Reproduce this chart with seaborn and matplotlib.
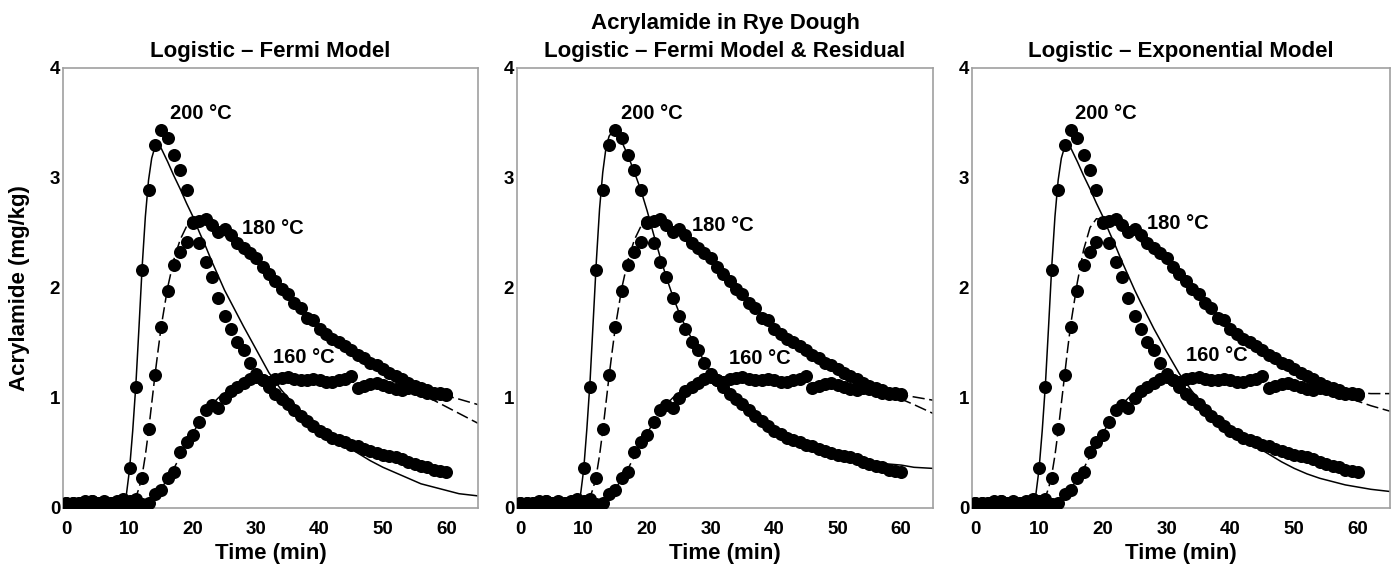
import matplotlib
matplotlib.use('Agg')
import numpy as np
import pandas as pd
import matplotlib.pyplot as plt
import seaborn as sns

# measured acrylamide (mg/kg), one reading per minute
time_min = [0, 1, 2, 3, 4, 5, 6, 7, 8, 9, 10, 11, 12, 13, 14, 15, 16, 17, 18, 19, 20,
            21, 22, 23, 24, 25, 26, 27, 28, 29, 30, 31, 32, 33, 34, 35, 36, 37, 38, 39, 40,
            41, 42, 43, 44, 45, 46, 47, 48, 49, 50, 51, 52, 53, 54, 55, 56, 57, 58, 59, 60]

acr_200 = [0.04, 0.05, 0.05, 0.06, 0.05, 0.05, 0.06, 0.05, 0.05, 0.08, 0.36,
           1.10, 2.16, 2.89, 3.30, 3.44, 3.36, 3.21, 3.07, 2.89, 2.60,
           2.41, 2.24, 2.10, 1.91, 1.75, 1.63, 1.51, 1.44, 1.32, 1.22,
           1.16, 1.10, 1.04, 0.99, 0.95, 0.89, 0.84, 0.79, 0.75, 0.70,
           0.67, 0.64, 0.62, 0.60, 0.57, 0.56, 0.54, 0.52, 0.50, 0.48,
           0.47, 0.46, 0.45, 0.42, 0.40, 0.38, 0.37, 0.35, 0.34, 0.33]

acr_180 = [0.05, 0.04, 0.05, 0.05, 0.06, 0.05, 0.04, 0.05, 0.06, 0.05, 0.04,
           0.08, 0.27, 0.72, 1.21, 1.65, 1.97, 2.21, 2.33, 2.42, 2.59,
           2.61, 2.63, 2.57, 2.51, 2.54, 2.48, 2.41, 2.36, 2.32, 2.27,
           2.19, 2.13, 2.06, 1.99, 1.95, 1.86, 1.82, 1.73, 1.71, 1.63,
           1.58, 1.54, 1.51, 1.47, 1.44, 1.39, 1.36, 1.32, 1.30, 1.26,
           1.23, 1.20, 1.17, 1.14, 1.11, 1.09, 1.07, 1.05, 1.04, 1.03]

acr_160 = [0.05, 0.05, 0.04, 0.05, 0.06, 0.05, 0.05, 0.04, 0.05, 0.05, 0.06,
           0.05, 0.04, 0.05, 0.13, 0.16, 0.27, 0.33, 0.51, 0.60, 0.66,
           0.78, 0.89, 0.94, 0.91, 1.00, 1.06, 1.10, 1.14, 1.17, 1.19,
           1.16, 1.15, 1.17, 1.18, 1.19, 1.17, 1.16, 1.16, 1.17, 1.16,
           1.15, 1.15, 1.16, 1.17, 1.20, 1.09, 1.11, 1.13, 1.14, 1.12,
           1.10, 1.08, 1.07, 1.09, 1.08, 1.06, 1.05, 1.04, 1.05, 1.04]

# fitted model curves
fit_time = [0, 8, 9, 9.5, 10, 10.5, 11, 11.5, 12, 12.5, 13, 13.5, 14, 14.5, 15,
            16, 17, 18, 19, 20, 21, 22, 23, 24, 25, 26, 28, 30, 32, 34,
            36, 38, 40, 42, 44, 46, 48, 50, 52, 54, 56, 58, 60, 62, 65]

# Logistic - Fermi
fermi_200 = [0.05, 0.05, 0.06, 0.12, 0.35, 0.70, 1.12, 1.65, 2.20, 2.65, 2.98, 3.18, 3.28, 3.31, 3.27,
             3.15, 3.02, 2.90, 2.77, 2.65, 2.51, 2.38, 2.24, 2.11, 1.98, 1.87, 1.65, 1.44, 1.23, 1.07,
             0.94, 0.82, 0.72, 0.64, 0.57, 0.50, 0.43, 0.37, 0.32, 0.27, 0.22, 0.19, 0.16, 0.13, 0.11]
fermi_180 = [0.05, 0.05, 0.05, 0.05, 0.05, 0.06, 0.10, 0.18, 0.30, 0.48, 0.70, 0.95, 1.20, 1.43, 1.65,
             2.00, 2.26, 2.44, 2.56, 2.62, 2.63, 2.61, 2.57, 2.53, 2.48, 2.43, 2.33, 2.23, 2.11, 1.99,
             1.87, 1.76, 1.65, 1.55, 1.46, 1.38, 1.30, 1.23, 1.16, 1.10, 1.04, 0.98, 0.92, 0.86, 0.77]
fermi_160 = [0.05, 0.05, 0.05, 0.05, 0.05, 0.05, 0.05, 0.05, 0.05, 0.06, 0.07, 0.09, 0.12, 0.15, 0.18,
             0.26, 0.36, 0.47, 0.58, 0.68, 0.78, 0.87, 0.94, 1.00, 1.05, 1.09, 1.14, 1.16, 1.17, 1.17,
             1.17, 1.17, 1.16, 1.16, 1.15, 1.14, 1.13, 1.11, 1.10, 1.08, 1.06, 1.04, 1.02, 0.99, 0.94]

# Logistic - Fermi & residual
resid_200 = [0.05, 0.05, 0.06, 0.12, 0.35, 0.72, 1.15, 1.70, 2.25, 2.72, 3.05, 3.27, 3.38, 3.42, 3.41,
             3.33, 3.20, 3.05, 2.89, 2.70, 2.49, 2.29, 2.10, 1.93, 1.78, 1.65, 1.43, 1.24, 1.09, 0.98,
             0.89, 0.80, 0.72, 0.65, 0.60, 0.56, 0.52, 0.49, 0.46, 0.44, 0.42, 0.40, 0.39, 0.37, 0.36]
resid_180 = [0.05, 0.05, 0.05, 0.05, 0.05, 0.06, 0.10, 0.18, 0.30, 0.48, 0.70, 0.95, 1.20, 1.43, 1.65,
             2.00, 2.26, 2.44, 2.56, 2.62, 2.63, 2.61, 2.57, 2.53, 2.48, 2.43, 2.33, 2.23, 2.11, 1.99,
             1.87, 1.76, 1.65, 1.56, 1.47, 1.39, 1.32, 1.25, 1.19, 1.13, 1.08, 1.03, 0.99, 0.94, 0.86]
resid_160 = [0.05, 0.05, 0.05, 0.05, 0.05, 0.05, 0.05, 0.05, 0.05, 0.06, 0.07, 0.09, 0.12, 0.15, 0.18,
             0.26, 0.36, 0.47, 0.58, 0.68, 0.78, 0.87, 0.94, 1.00, 1.05, 1.09, 1.14, 1.16, 1.17, 1.17,
             1.17, 1.17, 1.16, 1.16, 1.15, 1.14, 1.13, 1.12, 1.10, 1.09, 1.07, 1.05, 1.03, 1.01, 0.98]

# Logistic - Exponential
expo_200 = [0.05, 0.05, 0.06, 0.12, 0.35, 0.70, 1.12, 1.65, 2.20, 2.65, 2.98, 3.18, 3.28, 3.31, 3.27,
            3.15, 3.02, 2.90, 2.77, 2.65, 2.51, 2.38, 2.24, 2.11, 1.98, 1.86, 1.63, 1.42, 1.22, 1.06,
            0.92, 0.80, 0.70, 0.62, 0.56, 0.49, 0.42, 0.36, 0.31, 0.27, 0.24, 0.21, 0.19, 0.17, 0.15]
expo_180 = [0.05, 0.05, 0.05, 0.05, 0.05, 0.06, 0.10, 0.18, 0.30, 0.48, 0.70, 0.95, 1.20, 1.45, 1.68,
            2.05, 2.35, 2.55, 2.63, 2.62, 2.60, 2.58, 2.55, 2.51, 2.47, 2.42, 2.33, 2.23, 2.11, 1.99,
            1.87, 1.76, 1.65, 1.56, 1.47, 1.39, 1.32, 1.25, 1.19, 1.13, 1.08, 1.02, 0.97, 0.93, 0.88]
expo_160 = [0.05, 0.05, 0.05, 0.05, 0.05, 0.05, 0.05, 0.05, 0.05, 0.06, 0.07, 0.09, 0.12, 0.15, 0.18,
            0.26, 0.36, 0.47, 0.58, 0.68, 0.78, 0.87, 0.94, 1.00, 1.05, 1.09, 1.14, 1.16, 1.17, 1.17,
            1.17, 1.17, 1.16, 1.16, 1.15, 1.14, 1.13, 1.12, 1.10, 1.09, 1.08, 1.06, 1.05, 1.04, 1.04]

temps = ['200 °C', '180 °C', '160 °C']
panel_titles = ['Logistic – Fermi Model',
                'Acrylamide in Rye Dough\nLogistic – Fermi Model & Residual',
                'Logistic – Exponential Model']

sns.set_style('white')
plt.rcParams['font.family'] = ['Liberation Sans', 'DejaVu Sans']
plt.rcParams['font.weight'] = 'bold'
plt.rcParams['text.color'] = 'black'
plt.rcParams['axes.labelcolor'] = 'black'
plt.rcParams['xtick.labelcolor'] = 'black'
plt.rcParams['ytick.labelcolor'] = 'black'

points = pd.concat([
    pd.DataFrame({'time': time_min, 'acr': vals, 'temp': t})
    for t, vals in zip(temps, [acr_200, acr_180, acr_160])
], ignore_index=True)

fits = [
    [fermi_200, fermi_180, fermi_160],
    [resid_200, resid_180, resid_160],
    [expo_200, expo_180, expo_160],
]

# where the temperature labels sit in each panel (data coords)
label_pos = [
    [(16.4, 3.59), (27.7, 2.54), (32.6, 1.37)],
    [(15.8, 3.59), (27.1, 2.57), (32.9, 1.36)],
    [(15.7, 3.59), (27.0, 2.59), (33.1, 1.39)],
]

W, H = 1397, 571
fig = plt.figure(figsize=(W / 100, H / 100), dpi=100)
rects = [(63, 478), (517, 933), (972, 1390)]
dash_map = {'200 °C': '', '180 °C': (8, 3), '160 °C': (8, 3)}

for i, (x0, x1) in enumerate(rects):
    ax = fig.add_axes([x0 / W, (H - 508) / H, (x1 - x0) / W, 440 / H])

    fit_df = pd.concat([
        pd.DataFrame({'time': fit_time, 'acr': vals, 'temp': t})
        for t, vals in zip(temps, fits[i])
    ], ignore_index=True)

    sns.lineplot(data=fit_df, x='time', y='acr', style='temp', dashes=dash_map,
                 color='black', linewidth=1.1, estimator=None, sort=False,
                 legend=False, ax=ax, zorder=2)
    sns.scatterplot(data=points, x='time', y='acr', color='black', s=88,
                    linewidth=0, legend=False, ax=ax, zorder=3)

    for t, (lx, ly) in zip(temps, label_pos[i]):
        ax.text(lx, ly, t, fontsize=14.5, fontweight='bold', ha='left', va='center',
                color='black')

    ax.set_xlim(-0.5, 65)
    ax.set_ylim(0, 4)
    ax.set_xticks([0, 10, 20, 30, 40, 50, 60])
    ax.set_yticks([0, 1, 2, 3, 4])
    ax.tick_params(direction='in', length=3, width=0.8, color='#999999',
                   labelsize=13.5, pad=2)
    ax.tick_params(axis='x', pad=9)
    for lab in ax.get_xticklabels() + ax.get_yticklabels():
        lab.set_fontweight('bold')
    for sp in ax.spines.values():
        sp.set_color('#a0a0a0')
        sp.set_linewidth(1.2)
        sp.set_visible(True)

    ax.set_xlabel('Time (min)', fontsize=16, fontweight='bold', labelpad=4)
    if i == 0:
        ax.set_ylabel('Acrylamide (mg/kg)', fontsize=16, fontweight='bold', labelpad=14)
    else:
        ax.set_ylabel('')
    ax.set_title(panel_titles[i], fontsize=16, fontweight='bold', pad=8,
                 linespacing=1.45, color='black')

fig.savefig('out.png', dpi=100, facecolor='white')
